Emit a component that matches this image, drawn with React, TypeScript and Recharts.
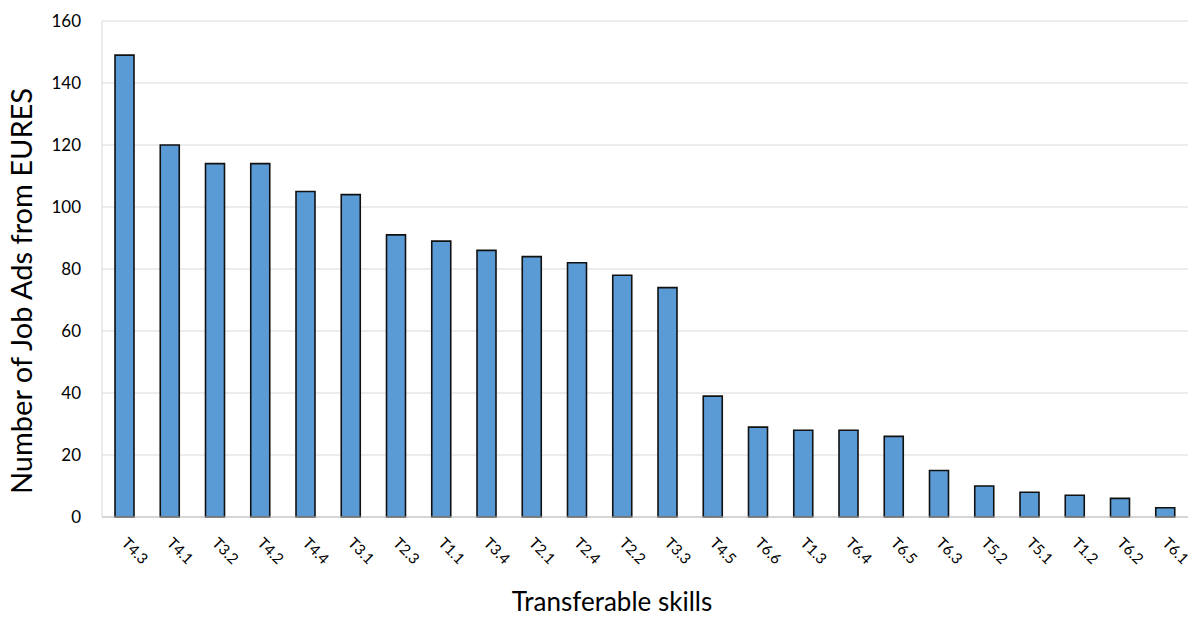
import { BarChart, Bar, XAxis, YAxis, CartesianGrid, Label } from 'recharts'

const skills = [
  'T4.3', 'T4.1', 'T3.2', 'T4.2', 'T4.4', 'T3.1', 'T2.3', 'T1.1',
  'T3.4', 'T2.1', 'T2.4', 'T2.2', 'T3.3', 'T4.5', 'T6.6', 'T1.3',
  'T6.4', 'T6.5', 'T6.3', 'T5.2', 'T5.1', 'T1.2', 'T6.2', 'T6.1',
]
const jobAds = [149, 120, 114, 114, 105, 104, 91, 89, 86, 84, 82, 78, 74, 39, 29, 28, 28, 26, 15, 10, 8, 7, 6, 3]
const yTicks = [0, 20, 40, 60, 80, 100, 120, 140, 160]

const FONT = 'Lato, "Open Sans", sans-serif'

const data = skills.map((s, i) => ({ skill: s, ads: jobAds[i] }))

function SkillTick({ x, y, payload }: { x?: number; y?: number; payload?: { value: string } }) {
  return (
    <g transform={`translate(${(x ?? 0) - 4},${(y ?? 0) + 27})`}>
      <text transform="rotate(45)" textAnchor="start" fontSize={15} fill="#000" fontFamily={FONT}>
        {payload?.value}
      </text>
    </g>
  )
}

function CountTick({ y, payload }: { x?: number; y?: number; payload?: { value: number } }) {
  return (
    <text x={81} y={(y ?? 0) + 6} textAnchor="end" fontSize={17} fill="#000" fontFamily={FONT}>
      {payload?.value}
    </text>
  )
}

export default function App() {
  return (
    <div style={{ position: 'absolute', left: 0, top: 0, background: '#fff' }}>
      <BarChart
        width={1201}
        height={617}
        data={data}
        margin={{ top: 21, right: 13, left: 0, bottom: 0 }}
      >
        <CartesianGrid vertical={false} stroke="#d9d9d9" strokeWidth={1} />
        <XAxis
          dataKey="skill"
          height={100}
          interval={0}
          tickSize={0}
          tickMargin={0}
          tickLine={false}
          axisLine={{ stroke: '#bfbfbf', strokeWidth: 1 }}
          tick={<SkillTick />}
        >
          <Label
            content={() => (
              <text x={612} y={611} textAnchor="middle" fontSize={26} fill="#000" fontFamily={FONT}>
                Transferable skills
              </text>
            )}
          />
        </XAxis>
        <YAxis
          width={102}
          domain={[0, 160]}
          ticks={yTicks}
          tickLine={false}
          axisLine={{ stroke: '#d9d9d9', strokeWidth: 1 }}
          tick={<CountTick />}
        >
          <Label
            content={() => (
              <text
                x={32}
                y={291}
                transform="rotate(-90, 32, 291)"
                textAnchor="middle"
                fontSize={29}
                fill="#000"
                fontFamily={FONT}
              >
                Number of Job Ads from EURES
              </text>
            )}
          />
        </YAxis>
        <Bar
          dataKey="ads"
          fill="#5b9bd5"
          stroke="#111"
          strokeWidth={1.6}
          barSize={19}
          isAnimationActive={false}
        />
      </BarChart>
    </div>
  )
}
